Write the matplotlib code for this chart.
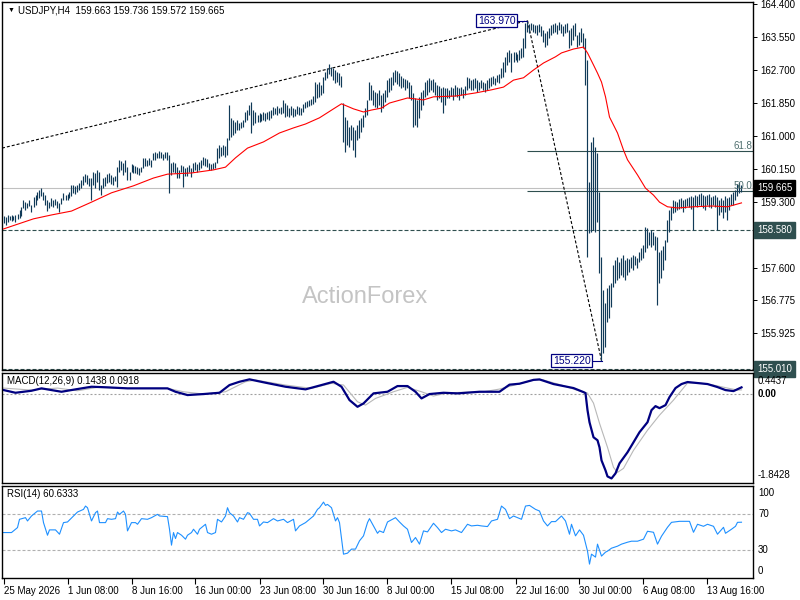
"""USDJPY H4 in the MT4 look: bar chart + red MA, MACD pane, RSI pane. -> out.png"""

import matplotlib
matplotlib.use("Agg")
import matplotlib.pyplot as plt
from matplotlib.transforms import offset_copy

plt.rcParams["font.family"] = ["Liberation Sans", "DejaVu Sans"]
plt.rcParams["lines.scale_dashes"] = False

PX = 0.72  # points per pixel at dpi 100
W, H = 800, 600

# ---- data (bar index = H4 bar from 25 May 00:00) ----
highs = [
    158.94, 158.92, 158.97, 158.94, 158.97, 158.94, 158.97, 159.00, 159.10, 159.18,
    159.36, 159.30, 159.28, 159.36, 159.23, 159.43, 159.48, 159.56, 159.61, 159.66,
    159.56, 159.48, 159.36, 159.30, 159.41, 159.36, 159.38, 159.33, 159.28, 159.41,
    159.54, 159.48, 159.51, 159.56, 159.74, 159.74, 159.72, 159.74, 159.79, 159.87,
    159.97, 160.02, 160.00, 159.92, 159.92, 160.08, 160.05, 160.13, 160.08, 159.74,
    159.92, 159.95, 160.02, 160.05, 160.00, 159.95, 159.97, 160.20, 160.39, 160.36,
    160.31, 160.39, 160.20, 160.08, 160.28, 160.26, 160.23, 160.20, 160.18, 160.20,
    160.44, 160.44, 160.39, 160.44, 160.39, 160.57, 160.59, 160.57, 160.62, 160.59,
    160.54, 160.59, 160.59, 160.51, 160.31, 160.33, 160.31, 160.20, 160.13, 160.26,
    160.23, 160.18, 160.20, 160.26, 160.18, 160.31, 160.33, 160.28, 160.33, 160.39,
    160.46, 160.44, 160.41, 160.31, 160.28, 160.31, 160.33, 160.69, 160.77, 160.72,
    160.77, 160.75, 160.95, 161.80, 161.47, 161.41, 161.36, 161.41, 161.34, 161.36,
    161.41, 161.62, 161.67, 161.80, 161.88, 161.67, 161.62, 161.54, 161.59, 161.57,
    161.62, 161.59, 161.62, 161.65, 161.67, 161.75, 161.72, 161.77, 161.72, 161.75,
    161.93, 161.85, 161.80, 161.72, 161.77, 161.72, 161.70, 161.77, 161.75, 161.72,
    161.83, 161.88, 161.90, 161.93, 161.95, 162.03, 162.39, 162.34, 162.39, 162.32,
    162.52, 162.65, 162.75, 162.86, 162.78, 162.75, 162.70, 162.65, 162.62, 162.55,
    161.85, 161.49, 161.41, 161.23, 161.29, 161.23, 161.16, 161.29, 161.41, 161.47,
    161.54, 161.72, 161.93, 162.39, 162.32, 162.19, 162.14, 162.11, 162.19, 162.06,
    162.11, 162.19, 162.44, 162.50, 162.52, 162.65, 162.70, 162.68, 162.62, 162.55,
    162.50, 162.47, 162.44, 162.39, 162.32, 162.11, 161.98, 161.93, 162.01, 162.14,
    162.19, 162.39, 162.44, 162.50, 162.44, 162.47, 162.39, 162.32, 162.29, 162.24,
    162.26, 162.24, 162.24, 162.19, 162.26, 162.24, 162.32, 162.26, 162.24, 162.26,
    162.21, 162.29, 162.52, 162.50, 162.44, 162.47, 162.50, 162.44, 162.39, 162.44,
    162.39, 162.37, 162.44, 162.50, 162.52, 162.55, 162.50, 162.57, 162.60, 162.75,
    162.91, 163.04, 163.17, 163.22, 163.14, 163.17, 163.17, 163.11, 163.22, 163.27,
    163.53, 163.91, 163.97, 163.89, 163.91, 163.89, 163.86, 163.86, 163.89, 163.83,
    163.73, 163.65, 163.71, 163.78, 163.86, 163.89, 163.91, 163.86, 163.94, 163.89,
    163.83, 163.89, 163.91, 163.73, 163.78, 163.86, 163.91, 163.60, 163.68, 163.78,
    163.65, 163.53, 162.96, 159.82, 160.85, 160.98, 160.72, 160.57, 159.56, 157.89,
    157.04, 156.70, 157.09, 157.17, 157.22, 157.68, 157.81, 157.89, 157.76, 157.86,
    157.94, 157.81, 157.86, 157.84, 157.89, 157.94, 157.91, 157.86, 158.02, 158.12,
    158.20, 158.66, 158.63, 158.53, 158.58, 158.53, 158.43, 158.40, 158.02, 158.07,
    158.17, 158.33, 158.84, 159.10, 159.18, 159.36, 159.33, 159.30, 159.38, 159.41,
    159.36, 159.38, 159.41, 159.43, 159.46, 159.43, 159.48, 159.46, 159.51, 159.54,
    159.48, 159.46, 159.48, 159.51, 159.43, 159.46, 159.48, 159.43, 159.36, 159.41,
    159.36, 159.46, 159.41, 159.43, 159.51, 159.56, 159.61, 159.77, 159.82, 159.736,
]
lows = [
    158.76, 158.71, 158.79, 158.84, 158.81, 158.84, 158.79, 158.87, 158.89, 158.94,
    159.15, 159.10, 159.15, 159.20, 159.05, 159.18, 159.23, 159.36, 159.41, 159.46,
    159.36, 159.23, 159.07, 159.15, 159.20, 159.18, 159.23, 159.15, 159.05, 159.25,
    159.36, 159.36, 159.36, 159.41, 159.46, 159.54, 159.51, 159.56, 159.61, 159.66,
    159.74, 159.82, 159.77, 159.72, 159.36, 159.74, 159.66, 159.82, 159.61, 159.48,
    159.66, 159.72, 159.79, 159.82, 159.77, 159.74, 159.84, 159.69, 160.08, 160.13,
    160.00, 160.08, 159.87, 159.87, 160.08, 160.05, 160.05, 160.02, 160.00, 160.08,
    160.18, 160.23, 160.23, 160.26, 160.20, 160.39, 160.39, 160.44, 160.44, 160.44,
    160.39, 160.44, 160.39, 159.54, 160.00, 160.08, 160.05, 159.92, 159.92, 160.08,
    159.69, 159.97, 159.97, 160.08, 159.95, 160.08, 160.13, 160.08, 160.13, 160.18,
    160.26, 160.23, 160.20, 160.13, 160.13, 160.15, 160.18, 160.31, 160.44, 160.49,
    160.51, 160.46, 160.51, 160.90, 160.98, 161.03, 161.08, 161.16, 161.16, 161.21,
    161.23, 161.36, 161.41, 161.54, 161.08, 161.29, 161.34, 161.36, 161.36, 161.39,
    161.41, 161.39, 161.44, 161.41, 161.47, 161.54, 161.57, 161.54, 161.59, 161.57,
    161.59, 161.49, 161.52, 161.49, 161.54, 161.49, 161.52, 161.57, 161.54, 161.54,
    161.62, 161.72, 161.75, 161.77, 161.80, 161.83, 161.88, 161.98, 162.01, 162.06,
    162.11, 162.44, 162.50, 162.60, 162.55, 162.44, 162.37, 162.39, 162.32, 162.26,
    160.85, 160.59, 160.77, 160.72, 160.90, 160.64, 160.46, 160.90, 160.95, 161.11,
    161.23, 161.49, 161.54, 161.93, 161.93, 161.80, 161.75, 161.72, 161.80, 161.62,
    161.72, 161.88, 162.01, 162.14, 162.19, 162.32, 162.39, 162.34, 162.29, 162.24,
    162.26, 162.19, 162.24, 161.98, 161.93, 161.23, 161.29, 161.23, 161.47, 161.67,
    161.80, 162.01, 162.06, 162.14, 162.19, 162.14, 162.06, 161.93, 161.98, 161.88,
    161.59, 161.80, 161.98, 161.98, 162.03, 161.93, 162.03, 162.01, 161.93, 162.06,
    161.98, 162.06, 162.19, 162.24, 162.19, 162.19, 162.24, 162.14, 162.19, 162.24,
    162.19, 162.14, 162.19, 162.24, 162.29, 162.34, 162.32, 162.39, 162.37, 162.50,
    162.52, 162.65, 162.83, 162.91, 162.65, 162.91, 162.96, 162.91, 162.96, 163.01,
    163.04, 163.27, 163.68, 163.65, 163.73, 163.68, 163.65, 163.60, 163.68, 163.58,
    163.42, 163.29, 163.35, 163.53, 163.60, 163.65, 163.68, 163.63, 163.73, 163.65,
    163.58, 163.65, 163.68, 163.27, 163.35, 163.47, 163.58, 163.29, 163.35, 163.42,
    163.27, 162.32, 157.89, 158.51, 158.53, 158.58, 158.53, 158.79, 157.48, 155.22,
    155.42, 155.57, 156.22, 156.32, 156.60, 157.12, 157.22, 157.30, 157.35, 157.43,
    157.37, 157.30, 157.43, 157.50, 157.61, 157.55, 157.68, 157.61, 157.76, 157.81,
    157.86, 158.02, 158.12, 158.20, 158.15, 158.20, 158.07, 156.65, 157.22, 157.35,
    157.55, 157.81, 158.27, 158.53, 158.84, 159.02, 159.05, 159.10, 159.12, 159.15,
    159.05, 159.15, 159.20, 159.18, 159.12, 158.58, 159.20, 159.18, 159.23, 159.20,
    159.15, 159.10, 159.23, 159.18, 159.15, 159.23, 159.18, 158.58, 158.97, 159.05,
    158.89, 159.05, 158.84, 159.10, 159.23, 159.23, 159.36, 159.46, 159.54, 159.572,
]

# red moving average, sampled along the line
ma_idx = [0, 15, 24, 34, 44, 54, 65, 75, 82, 94, 105, 111, 116, 122, 130, 138, 145, 151,
          158, 165, 169, 175, 180, 184, 189, 193, 202, 210, 215, 226, 236, 244, 250, 255,
          260, 265, 270, 276, 279, 285, 290, 292, 295, 297, 299, 301, 303, 307, 310, 312,
          317, 321, 325, 328, 332, 337, 345, 354, 362, 369]
ma_val = [158.61, 158.87, 158.97, 159.07, 159.30, 159.54, 159.72, 159.92, 160.02, 160.05,
          160.13, 160.20, 160.44, 160.69, 160.85, 161.08, 161.21, 161.31, 161.47, 161.70,
          161.83, 161.70, 161.62, 161.67, 161.72, 161.85, 161.98, 161.93, 162.01, 162.03,
          162.11, 162.19, 162.26, 162.44, 162.50, 162.70, 162.88, 163.04, 163.14, 163.24,
          163.29, 163.14, 162.83, 162.62, 162.39, 162.01, 161.49, 161.08, 160.64, 160.39,
          160.00, 159.66, 159.48, 159.30, 159.18, 159.15, 159.18, 159.20, 159.18, 159.28]

macd_idx = [0, 6, 14, 19, 24, 29, 36, 44, 52, 62, 75, 82, 86, 92, 100, 108, 113, 118, 123,
            131, 141, 151, 159, 165, 169, 173, 177, 180, 185, 192, 197, 202, 206, 209, 213,
            220, 227, 238, 248, 253, 258, 265, 268, 275, 285, 290, 291, 292, 293, 295, 297,
            298, 299, 301, 302, 304, 306, 308, 312, 315, 318, 322, 324, 326, 328, 331, 333,
            336, 339, 342, 347, 352, 357, 361, 365, 369]
macd_val = [0.088, 0.031, 0.073, 0.123, 0.087, 0.052, 0.102, 0.157, 0.144, 0.123, 0.123,
            0.123, 0.052, -0.017, 0.004, 0.031, 0.192, 0.261, 0.311, 0.241, 0.157, 0.102,
            0.192, 0.261, 0.157, -0.122, -0.262, -0.192, 0.018, 0.052, 0.171, 0.171, 0.052,
            -0.087, 0.004, 0.031, 0.018, 0.052, 0.052, 0.20, 0.22, 0.30, 0.31, 0.213, 0.129,
            0.045, 0.024, -0.332, -0.584, -0.898, -0.961, -1.108, -1.380, -1.590, -1.716,
            -1.758, -1.653, -1.443, -1.212, -1.003, -0.793, -0.584, -0.332, -0.248, -0.290,
            -0.227, -0.060, 0.129, 0.213, 0.255, 0.234, 0.213, 0.150, 0.087, 0.066, 0.1438]
sig_idx = [0, 14, 27, 37, 47, 62, 82, 90, 100, 111, 121, 126, 141, 154, 164, 170, 177, 181,
           186, 195, 202, 209, 215, 222, 240, 248, 265, 270, 279, 288, 292, 295, 298, 302,
           305, 307, 310, 315, 322, 328, 335, 342, 348, 355, 362, 367, 369]
sig_val = [0.129, 0.087, 0.129, 0.073, 0.144, 0.123, 0.123, 0.052, 0.004, 0.052, 0.261,
           0.297, 0.192, 0.123, 0.227, 0.192, -0.157, -0.227, -0.087, 0.052, 0.144, 0.052,
           -0.038, 0.031, 0.052, 0.108, 0.297, 0.297, 0.192, 0.066, 0.024, -0.185, -0.605,
           -1.108, -1.527, -1.632, -1.548, -1.171, -0.751, -0.437, -0.122, 0.234, 0.234,
           0.192, 0.129, 0.087, 0.0918]

rsi_idx = [0, 4, 5, 7, 8, 11, 12, 14, 17, 19, 20, 22, 23, 26, 28, 30, 32, 35, 37, 40, 41,
           42, 44, 46, 47, 48, 51, 52, 54, 56, 57, 58, 60, 61, 62, 64, 66, 67, 69, 72, 74,
           77, 78, 82, 83, 84, 85, 86, 87, 89, 91, 92, 94, 95, 97, 98, 101, 102, 104, 106,
           107, 109, 111, 112, 113, 115, 117, 118, 120, 122, 123, 125, 127, 128, 130, 132,
           135, 137, 140, 142, 145, 146, 148, 151, 153, 155, 157, 158, 160, 161, 162, 164,
           166, 167, 168, 170, 172, 174, 176, 178, 180, 182, 183, 185, 187, 188, 190, 192,
           196, 198, 200, 202, 204, 206, 208, 210, 212, 215, 217, 219, 221, 224, 226, 229,
           232, 234, 237, 239, 242, 244, 247, 249, 251, 253, 255, 257, 259, 261, 263, 266,
           268, 270, 272, 274, 276, 279, 281, 283, 284, 286, 288, 290, 292, 293, 294, 296,
           297, 299, 301, 302, 304, 307, 309, 312, 314, 317, 320, 322, 325, 327, 329, 332,
           334, 338, 343, 345, 347, 350, 352, 355, 357, 360, 361, 364, 366, 367, 369]
rsi_val = [49.4, 49.4, 51.2, 54.8, 63.8, 65.6, 62.0, 67.4, 72.8, 72.8, 60.2, 46.5, 52.3,
           52.3, 47.6, 60.2, 60.9, 67.4, 71.7, 74.6, 78.2, 76.4, 62.0, 71.0, 72.8, 60.2,
           60.2, 64.5, 63.8, 64.5, 71.7, 69.2, 72.8, 69.2, 51.2, 60.2, 60.2, 58.4, 64.5,
           63.8, 65.6, 69.2, 67.4, 66.7, 53.0, 35.7, 49.4, 42.9, 49.4, 46.5, 42.2, 46.5,
           49.4, 53.0, 47.6, 53.0, 58.4, 49.4, 47.6, 49.4, 63.8, 60.9, 67.4, 76.4, 71.0,
           67.4, 60.9, 65.6, 63.8, 71.0, 70.3, 63.8, 63.8, 56.6, 60.9, 60.2, 64.5, 62.0,
           63.8, 60.2, 63.8, 51.2, 56.6, 60.2, 63.8, 67.4, 74.6, 76.4, 82.5, 78.9, 80.0,
           76.4, 62.0, 65.6, 60.2, 25.9, 27.0, 31.4, 31.4, 40.4, 45.8, 60.2, 64.5, 56.6,
           48.6, 51.2, 49.4, 60.9, 65.6, 60.9, 56.6, 53.0, 38.6, 44.0, 36.8, 51.2, 50.1,
           59.5, 54.8, 49.4, 53.0, 51.2, 52.3, 49.4, 58.4, 56.6, 57.3, 56.6, 55.9, 62.0,
           63.8, 78.2, 74.6, 64.5, 67.4, 65.6, 63.8, 78.2, 78.9, 74.6, 72.8, 62.0, 56.6,
           61.3, 61.3, 67.4, 62.0, 47.6, 58.4, 45.8, 52.3, 46.5, 29.2, 15.1, 25.9, 22.7,
           36.8, 23.8, 28.1, 29.2, 32.4, 34.6, 36.8, 38.9, 40.0, 40.0, 42.2, 50.8, 49.7,
           36.8, 45.4, 55.1, 60.5, 61.6, 61.6, 49.7, 58.4, 56.2, 58.4, 56.2, 47.6, 55.1,
           48.6, 53.0, 56.2, 60.5, 60.6333]

price_ticks = [164.400, 163.550, 162.700, 161.850, 161.000, 160.150, 159.300, 158.450,
               157.600, 156.775, 155.925]
date_idx = [0, 32, 64, 96, 128, 160, 192, 224, 256, 288, 320, 352]
date_labels = ["25 May 2026", "1 Jun 08:00", "8 Jun 16:00", "16 Jun 00:00", "23 Jun 08:00",
               "30 Jun 16:00", "8 Jul 00:00", "15 Jul 08:00", "22 Jul 16:00", "30 Jul 00:00",
               "6 Aug 08:00", "13 Aug 16:00"]

swing_hi = (262, 163.970)
swing_lo = (299, 155.220)
trend_start = (-0.75, 160.69)
fib_ratios = [61.8, 50.0]
last_price = 159.665
hlines = [158.580, 155.010]
ohlc_text = "159.663 159.736 159.572 159.665"
macd_last = (0.1438, 0.0918)
rsi_last = 60.6333

XMIN, XMAX = -0.75, 374.75   # 2 px per bar, bars land on pixel centres
BAR = "#103a58"
SLATE = "#2f4f4f"
NAVY = "#000080"


def box(left, top, right, bottom):
    """pixel box (from top-left) -> fig fraction rect"""
    return [left / W, 1 - bottom / H, (right - left) / W, (bottom - top) / H]


def right_text(fig, a, y, s, dy=0, va="center", **kw):
    tr = offset_copy(a.get_yaxis_transform(), fig=fig, x=5, y=dy, units="dots")
    a.text(1.0, y, s, transform=tr, ha="left", va=va, fontsize=7, clip_on=False, **kw)


def axis_tag(fig, a, y, s, fc):
    tr = offset_copy(a.get_yaxis_transform(), fig=fig, x=4, units="dots")
    a.text(1.0, y, s, transform=tr, ha="left", va="center", fontsize=7, color="white",
           bbox=dict(boxstyle="square,pad=0.3", fc=fc, ec=fc), clip_on=False, zorder=10)


def main():
    assert len(highs) == len(lows)
    fig = plt.figure(figsize=(W / 100, H / 100), dpi=100)
    ax = fig.add_axes(box(2, 2, 753, 370))
    am = fig.add_axes(box(2, 373, 753, 482.5), sharex=ax)
    ar = fig.add_axes(box(2, 486, 753, 578), sharex=ax)

    for a in (ax, am, ar):
        for sp in a.spines.values():
            sp.set_linewidth(1.0)
            sp.set_color("black")
        a.tick_params(axis="x", bottom=False, labelbottom=False)
    ax.set_xlim(XMIN, XMAX)

    # ---- main pane ----
    idx = list(range(len(highs)))
    ax.vlines(idx, lows, highs, color=BAR, lw=0.85, zorder=3)
    ax.plot(ma_idx, ma_val, color="red", lw=0.8, zorder=4)
    ax.axhline(last_price, color="#c0c0c0", lw=0.8, zorder=1)
    for lv in hlines:
        ax.axhline(lv, color=SLATE, lw=0.8, dashes=(4 * PX, 2 * PX), zorder=2)

    rng = swing_hi[1] - swing_lo[1]
    for r in fib_ratios:
        lv = swing_lo[1] + r / 100 * rng
        ax.hlines(lv, swing_hi[0], XMAX, color=SLATE, lw=0.8, zorder=2)
        ax.text(XMAX - 0.5, lv, f"{r:.1f}", ha="right", va="bottom", fontsize=7,
                color="#4f6f6f", zorder=5)

    dots = (3 * PX, 2 * PX)
    ax.plot([trend_start[0], swing_hi[0]], [trend_start[1], swing_hi[1]],
            color="black", lw=0.8, dashes=dots, zorder=2)
    ax.plot([swing_hi[0], swing_lo[0]], [swing_hi[1], swing_lo[1]],
            color="black", lw=0.8, dashes=dots, zorder=2)

    # swing price tags with short leaders
    ax.plot([swing_hi[0] - 5, swing_hi[0]], [swing_hi[1]] * 2, color=NAVY, lw=0.8, zorder=5)
    ax.text(swing_hi[0] - 6, swing_hi[1], f"{swing_hi[1]:.3f}", ha="right", va="center",
            fontsize=7.5, color=NAVY, zorder=6,
            bbox=dict(boxstyle="square,pad=0.15", fc="white", ec=NAVY, lw=0.9))
    ax.plot([swing_lo[0] - 4.5, swing_lo[0] + 0.5], [swing_lo[1]] * 2, color=NAVY, lw=0.8,
            zorder=5)
    ax.text(swing_lo[0] - 5.5, swing_lo[1], f"{swing_lo[1]:.3f}", ha="right", va="center",
            fontsize=7.5, color=NAVY, zorder=6,
            bbox=dict(boxstyle="square,pad=0.15", fc="white", ec=NAVY, lw=0.9))

    ax.text(0.483, 0.182, "ActionForex", transform=ax.transAxes, ha="center",
            va="baseline", fontsize=17, color="#c4c4c4", zorder=0)

    ax.set_ylim(154.98, 164.45)
    ax.yaxis.tick_right()
    ax.set_yticks(price_ticks)
    ax.set_yticklabels([f"{v:.3f}" for v in price_ticks])
    ax.tick_params(axis="y", length=3, width=0.7, pad=2, labelsize=7)
    axis_tag(fig, ax, last_price, f"{last_price:.3f}", "black")
    for lv in hlines:
        axis_tag(fig, ax, lv, f"{lv:.3f}", SLATE)

    fig.text(8 / W, 1 - 10 / H, "\u25bc", fontsize=5, va="center")
    fig.text(18 / W, 1 - 10.5 / H, f"USDJPY,H4  {ohlc_text}", fontsize=7, va="center")

    # ---- MACD pane ----
    am.axhline(0, color="#a0a0a0", lw=0.8, dashes=(2 * PX, 2 * PX))
    am.plot(sig_idx, sig_val, color="#b8b8b8", lw=0.8)
    am.plot(macd_idx, macd_val, color=NAVY, lw=1.6)
    am.set_ylim(-1.8428, 0.4437)
    am.set_yticks([])
    right_text(fig, am, 0.4437, "0.4437", dy=-3, va="top")
    right_text(fig, am, 0.0, "0.00", fontweight="bold")
    right_text(fig, am, -1.8428, "-1.8428", dy=2, va="bottom")
    am.text(5 / 751, 1 - 8.5 / 109.5, f"MACD(12,26,9) {macd_last[0]:.4f} {macd_last[1]:.4f}",
            transform=am.transAxes, fontsize=7, va="center")

    # ---- RSI pane ----
    for lv in (70, 30):
        ar.axhline(lv, color="#b0b0b0", lw=0.8, dashes=(3 * PX, 2 * PX))
    ar.plot(rsi_idx, rsi_val, color="#1e90ff", lw=0.8)
    ar.set_ylim(0, 100)
    ar.set_yticks([])
    right_text(fig, ar, 100, "100", dy=-2, va="top")
    right_text(fig, ar, 70, "70")
    right_text(fig, ar, 30, "30")
    right_text(fig, ar, 0, "0", dy=2, va="bottom")
    ar.text(5 / 751, 1 - 8 / 92, f"RSI(14) {rsi_last:.4f}", transform=ar.transAxes,
            fontsize=7, va="center")

    ar.set_xticks(date_idx)
    ar.set_xticklabels(date_labels, ha="left")
    ar.tick_params(axis="x", bottom=True, labelbottom=True, length=4, width=0.8,
                   pad=2, labelsize=7)

    fig.savefig("out.png", dpi=100)


if __name__ == "__main__":
    main()
